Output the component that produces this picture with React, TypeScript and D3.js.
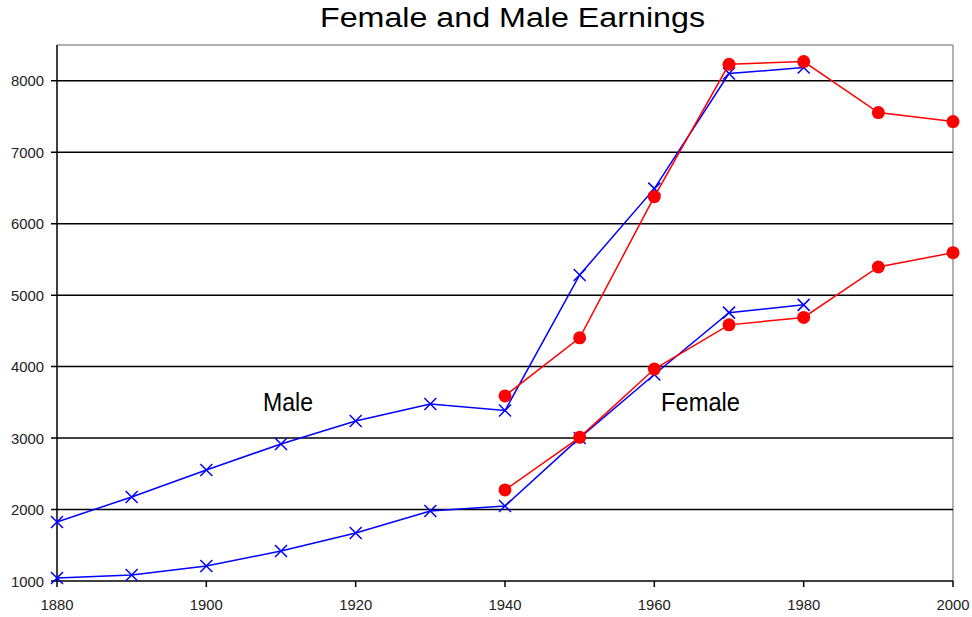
import React from "react";
import * as d3 from "d3";

const years = [1880, 1890, 1900, 1910, 1920, 1930, 1940, 1950, 1960, 1970, 1980, 1990, 2000];
const maleA: (number | null)[] = [1826, 2176, 2554, 2918, 3240, 3478, 3385, 5282, 6490, 8100, 8185, null, null];
const femaleA: (number | null)[] = [1042, 1084, 1210, 1420, 1672, 1980, 2050, 3002, 3890, 4755, 4864, null, null];
const maleB: (number | null)[] = [null, null, null, null, null, null, 3590, 4402, 6378, 8230, 8268, 7554, 7428];
const femaleB: (number | null)[] = [null, null, null, null, null, null, 2274, 3010, 3966, 4584, 4688, 5394, 5594];
const yTicks = [1000, 2000, 3000, 4000, 5000, 6000, 7000, 8000];
const xTicks = [1880, 1900, 1920, 1940, 1960, 1980, 2000];

const W = 972, H = 617;
const L = 57, R = 953, T = 45, B = 581;
const font = "'Liberation Sans', Arial, sans-serif";

export default function App() {
  const x = d3.scaleLinear().domain([1880, 2000]).range([L, R]);
  const y = d3.scaleLinear().domain([1000, 8500]).range([B, T]);
  const pts = (vals: (number | null)[]) =>
    years.map((yr, i) => ({ yr, v: vals[i] })).filter((d) => d.v != null) as { yr: number; v: number }[];
  const line = d3.line<{ yr: number; v: number }>().x((d) => x(d.yr)).y((d) => y(d.v));
  const blue = "#0000FF", red = "#FF0000";
  const cross = (cx: number, cy: number, k: string) => (
    <path key={k} d={`M${cx - 6},${cy - 6}L${cx + 6},${cy + 6}M${cx - 6},${cy + 6}L${cx + 6},${cy - 6}`} stroke={blue} strokeWidth={1.5} />
  );
  return (
    <svg width={W} height={H} style={{ position: "absolute", left: 0, top: 0, background: "#fff" }}>
      <rect x={0} y={0} width={W} height={H} fill="#fff" />
      <text x={512.5} y={27} textAnchor="middle" fontFamily={font} fontSize={27} fill="#000"
        textLength={385} lengthAdjust="spacingAndGlyphs">Female and Male Earnings</text>
      <line x1={L} y1={T} x2={R} y2={T} stroke="#999" strokeWidth={1.5} />
      <line x1={R} y1={T} x2={R} y2={B} stroke="#999" strokeWidth={1.5} />
      {yTicks.map((t) => (
        <g key={t}>
          <line x1={L - 6} x2={t === 1000 ? L : R} y1={y(t)} y2={y(t)} stroke="#000" strokeWidth={1.5} />
          <text x={44} y={y(t) + 5.5} textAnchor="end" fontFamily={font} fontSize={14} fill="#222"
            textLength={33} lengthAdjust="spacingAndGlyphs">{t}</text>
        </g>
      ))}
      <line x1={L} y1={T} x2={L} y2={B} stroke="#000" strokeWidth={1.5} />
      <line x1={L} y1={B} x2={R} y2={B} stroke="#000" strokeWidth={1.5} />
      {xTicks.map((t) => (
        <g key={t}>
          <line x1={x(t)} x2={x(t)} y1={B} y2={B + 6} stroke="#000" strokeWidth={1.5} />
          <text x={x(t)} y={610} textAnchor="middle" fontFamily={font} fontSize={14} fill="#222"
            textLength={33} lengthAdjust="spacingAndGlyphs">{t}</text>
        </g>
      ))}
      {[maleA, femaleA].map((s, i) => (
        <g key={"b" + i}>
          <path d={line(pts(s)) || ""} fill="none" stroke={blue} strokeWidth={1.5} />
          {pts(s).map((d) => cross(x(d.yr), y(d.v), `${i}-${d.yr}`))}
        </g>
      ))}
      {[maleB, femaleB].map((s, i) => (
        <g key={"r" + i}>
          <path d={line(pts(s)) || ""} fill="none" stroke={red} strokeWidth={1.5} />
          {pts(s).map((d) => (
            <circle key={d.yr} cx={x(d.yr)} cy={y(d.v)} r={6.5} fill={red} />
          ))}
        </g>
      ))}
      <text x={263} y={411} fontFamily={font} fontSize={25} fill="#000" textLength={50} lengthAdjust="spacingAndGlyphs">Male</text>
      <text x={661} y={411} fontFamily={font} fontSize={25} fill="#000" textLength={79} lengthAdjust="spacingAndGlyphs">Female</text>
    </svg>
  );
}
